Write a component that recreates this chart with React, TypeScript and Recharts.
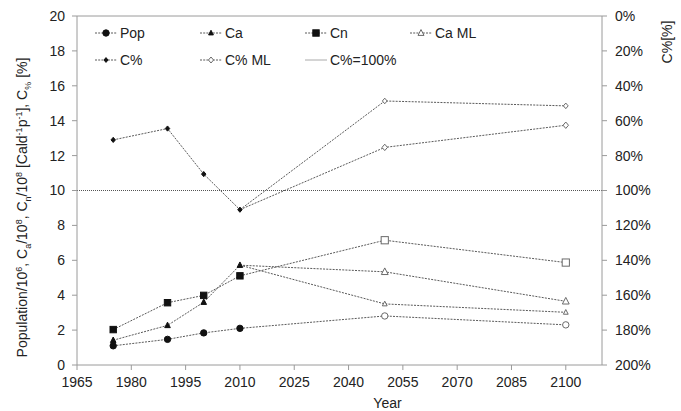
import React from "react";
import { LineChart, Line, XAxis, YAxis, ReferenceLine, Label } from "recharts";

// values
const years = [1975, 1990, 2000, 2010, 2050, 2100];
const pop = [1.1, 1.47, 1.84, 2.1, null, null];
const popProj = [null, null, null, 2.1, 2.81, 2.3];
const ca = [1.42, 2.27, 3.6, 5.72, null, null];
const caML = [null, null, null, 5.72, 5.34, 3.65];
const caProj = [null, null, null, 5.72, 3.5, 3.02];
const cn = [2.03, 3.57, 3.99, 5.11, null, null];
const cnProj = [null, null, null, 5.11, 7.15, 5.87];
// C% on the right axis, in percent
const cPct = [71, 64.5, 90.6, 111, null, null];
const cPctML = [null, null, null, 111, 75.3, 62.6];
const cPctProj = [null, null, null, 111, 48.7, 51.5];

const xTicks = [1965, 1980, 1995, 2010, 2025, 2040, 2055, 2070, 2085, 2100];
const leftTicks = [0, 2, 4, 6, 8, 10, 12, 14, 16, 18, 20];
const rightTicks = [0, 20, 40, 60, 80, 100, 120, 140, 160, 180, 200];

const data = years.map((year, i) => ({
  year,
  pop: pop[i],
  popProj: popProj[i],
  ca: ca[i],
  caML: caML[i],
  caProj: caProj[i],
  cn: cn[i],
  cnProj: cnProj[i],
  cPct: cPct[i],
  cPctML: cPctML[i],
  cPctProj: cPctProj[i],
}));

const FONT = "'Liberation Sans', Arial, sans-serif";
const TEXT = "#222";
const AXIS = "#9a9a9a";
const LINE = "#5a5a5a";
const DASH = "2 1.2";
const DARK = "#111";
const OPEN = "#6a6a6a";

type Shape = "circle" | "triangle" | "square" | "diamond";

function Marker({ cx, cy, shape, filled, size }: { cx: number; cy: number; shape: Shape; filled: boolean; size: number }) {
  const fill = filled ? DARK : "#fff";
  const stroke = filled ? DARK : OPEN;
  const s = size;
  if (shape === "circle") return <circle cx={cx} cy={cy} r={s} fill={fill} stroke={stroke} strokeWidth={1} />;
  if (shape === "square")
    return <rect x={cx - s} y={cy - s} width={2 * s} height={2 * s} fill={fill} stroke={stroke} strokeWidth={1} />;
  if (shape === "triangle")
    return (
      <polygon
        points={`${cx},${cy - s * 1.15} ${cx - s},${cy + s * 0.8} ${cx + s},${cy + s * 0.8}`}
        fill={fill}
        stroke={stroke}
        strokeWidth={1}
      />
    );
  return (
    <polygon
      points={`${cx},${cy - s} ${cx + s * 0.85},${cy} ${cx},${cy + s} ${cx - s * 0.85},${cy}`}
      fill={fill}
      stroke={stroke}
      strokeWidth={1}
    />
  );
}

const makeDot = (shape: Shape, filled: boolean, size: number, skipYear?: number) => (props: any) => {
  const { cx, cy, payload, index, value } = props;
  if (cx == null || cy == null || value == null || (skipYear && payload.year === skipYear))
    return <g key={`e${index}`} />;
  return (
    <g key={`d${index}`}>
      <Marker cx={cx} cy={cy} shape={shape} filled={filled} size={size} />
    </g>
  );
};

const series = [
  { key: "pop", axis: "left", shape: "circle" as Shape, filled: true, size: 3.2 },
  { key: "popProj", axis: "left", shape: "circle" as Shape, filled: false, size: 3.2, skip: 2010 },
  { key: "ca", axis: "left", shape: "triangle" as Shape, filled: true, size: 2.8 },
  { key: "caML", axis: "left", shape: "triangle" as Shape, filled: false, size: 3.4, skip: 2010 },
  { key: "caProj", axis: "left", shape: "triangle" as Shape, filled: false, size: 2.4, skip: 2010 },
  { key: "cn", axis: "left", shape: "square" as Shape, filled: true, size: 3.2 },
  { key: "cnProj", axis: "left", shape: "square" as Shape, filled: false, size: 3.6, skip: 2010 },
  { key: "cPct", axis: "right", shape: "diamond" as Shape, filled: true, size: 2.6 },
  { key: "cPctML", axis: "right", shape: "diamond" as Shape, filled: false, size: 3.2, skip: 2010 },
  { key: "cPctProj", axis: "right", shape: "diamond" as Shape, filled: false, size: 2.8, skip: 2010 },
];

const legendItems: { label: string; shape?: Shape; filled?: boolean; size?: number }[][] = [
  [
    { label: "Pop", shape: "circle", filled: true, size: 3.2 },
    { label: "Ca", shape: "triangle", filled: true, size: 2.4 },
    { label: "Cn", shape: "square", filled: true, size: 3.2 },
    { label: "Ca ML", shape: "triangle", filled: false, size: 3 },
  ],
  [
    { label: "C%", shape: "diamond", filled: true, size: 2.4 },
    { label: "C% ML", shape: "diamond", filled: false, size: 3 },
    { label: "C%=100%" },
  ],
];

function ChartLegend() {
  const colW = 105;
  const rowH = 27;
  return (
    <svg
      width={440}
      height={54}
      style={{ position: "absolute", left: 95, top: 21, display: "block", overflow: "visible" }}
    >
      {legendItems.map((row, r) =>
        row.map((it, c) => {
          const x = c * colW;
          const y = 12 + r * rowH;
          return (
            <g key={`${r}-${c}`}>
              {it.shape ? (
                <>
                  <line x1={x} x2={x + 22} y1={y} y2={y} stroke={LINE} strokeDasharray={DASH} />
                  <Marker cx={x + 11} cy={y} shape={it.shape} filled={!!it.filled} size={it.size || 3} />
                </>
              ) : (
                <line x1={x} x2={x + 22} y1={y} y2={y} stroke="#aaa" strokeWidth={1} />
              )}
              <text x={x + 25} y={y + 5} fontSize={14} fill={TEXT} fontFamily={FONT}>
                {it.label}
              </text>
            </g>
          );
        })
      )}
    </svg>
  );
}

function LeftTitle(props: any) {
  const vb = props.viewBox || { x: 17, y: 16, width: 60, height: 349 };
  const x = vb.x + 10;
  const y = vb.y + vb.height / 2 + 17;
  return (
    <text x={x} y={y} transform={`rotate(-90 ${x} ${y})`} textAnchor="middle" fontSize={14} fill={TEXT} fontFamily={FONT}>
      <tspan>Population/10</tspan>
      <tspan dy={-5} fontSize={9}>6</tspan>
      <tspan dy={5}>, C</tspan>
      <tspan dy={4} fontSize={9}>a</tspan>
      <tspan dy={-4}>/10</tspan>
      <tspan dy={-5} fontSize={9}>8</tspan>
      <tspan dy={5}>, C</tspan>
      <tspan dy={4} fontSize={9}>n</tspan>
      <tspan dy={-4}>/10</tspan>
      <tspan dy={-5} fontSize={9}>8</tspan>
      <tspan dy={5}> [Cald</tspan>
      <tspan dy={-5} fontSize={9}>-1</tspan>
      <tspan dy={5}>p</tspan>
      <tspan dy={-5} fontSize={9}>-1</tspan>
      <tspan dy={5}>], C</tspan>
      <tspan dy={4} fontSize={9}>%</tspan>
      <tspan dy={-4}> [%]</tspan>
    </text>
  );
}

function RightTitle(props: any) {
  const vb = props.viewBox || { x: 602, y: 16, width: 60, height: 349 };
  const x = vb.x + 70;
  const y = vb.y + 26;
  return (
    <text x={x} y={y} transform={`rotate(-90 ${x} ${y})`} textAnchor="middle" fontSize={14} fill={TEXT} fontFamily={FONT}>
      C%[%]
    </text>
  );
}

function XTitle(props: any) {
  const vb = props.viewBox || { x: 77, y: 365, width: 525, height: 46 };
  return (
    <text x={vb.x + vb.width / 2 + 48} y={vb.y + 43} textAnchor="middle" fontSize={14} fill={TEXT} fontFamily={FONT}>
      Year
    </text>
  );
}

const tickStyle = { fill: TEXT, fontSize: 14, fontFamily: FONT };

export default function App() {
  return (
    <div style={{ position: "absolute", left: 0, top: 0, width: 681, height: 411, background: "#fff" }}>
      <LineChart width={681} height={411} data={data} margin={{ top: 16, right: 19, bottom: 0, left: 17 }}>
        <XAxis
          dataKey="year"
          type="number"
          domain={[1965, 2110]}
          ticks={xTicks}
          allowDataOverflow
          height={46}
          tick={tickStyle}
          tickSize={5}
          tickMargin={7}
          axisLine={{ stroke: AXIS }}
          tickLine={{ stroke: AXIS }}
        >
          <Label content={<XTitle />} />
        </XAxis>
        <YAxis
          yAxisId="left"
          domain={[0, 20]}
          ticks={leftTicks}
          width={60}
          tick={tickStyle}
          tickSize={5}
          tickMargin={7}
          axisLine={{ stroke: AXIS }}
          tickLine={{ stroke: AXIS }}
        >
          <Label content={<LeftTitle />} />
        </YAxis>
        <YAxis
          yAxisId="right"
          orientation="right"
          domain={[0, 200]}
          reversed
          ticks={rightTicks}
          width={60}
          tick={tickStyle}
          tickFormatter={(v: number) => `${v}%`}
          tickSize={5}
          tickMargin={8}
          axisLine={{ stroke: AXIS }}
          tickLine={{ stroke: AXIS }}
        >
          <Label content={<RightTitle />} />
        </YAxis>
        <ReferenceLine yAxisId="left" y={20} stroke={AXIS} />
        <ReferenceLine yAxisId="right" y={100} stroke="#555" strokeDasharray="1 1" />
        {series.map((s) => (
          <Line
            key={s.key}
            yAxisId={s.axis}
            dataKey={s.key}
            type="linear"
            stroke={LINE}
            strokeWidth={1}
            strokeDasharray={DASH}
            dot={makeDot(s.shape, s.filled, s.size, s.skip)}
            activeDot={false}
            isAnimationActive={false}
            legendType="none"
          />
        ))}
      </LineChart>
      <ChartLegend />
    </div>
  );
}
